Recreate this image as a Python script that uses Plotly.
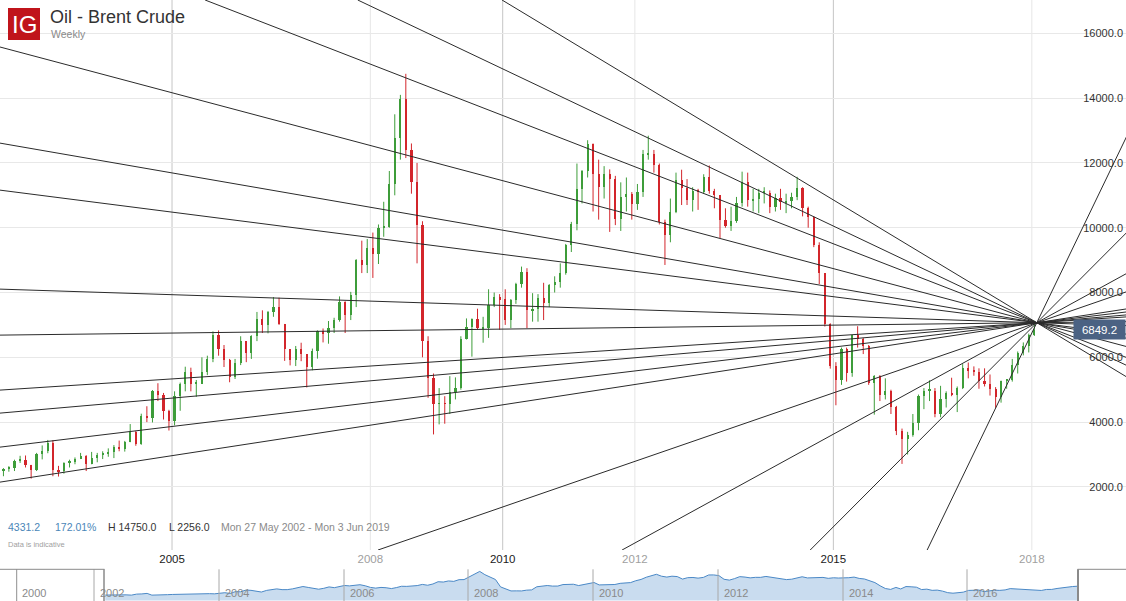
import pandas as pd
import plotly.graph_objects as go

# ---------------- data (monthly candles, price x100) ----------------
START_MONTH = "2002-06-01"
FIRST_OPEN = 2518.0

CLOSE = [
    2560, 2590, 2800, 2840, 2670, 2530, 3010,
    3120, 3370, 2530, 2490, 2740, 2760, 2860, 2960, 2710, 2890, 2990, 3030,
    3090, 3240, 3160, 3380, 3700, 3330, 4200, 4140, 4950, 4850, 4340, 4030,
    4820, 5180, 5540, 5190, 5190, 5560, 5960, 6690, 6250, 5930, 5390, 5820,
    6500, 6140, 6660, 7180, 7000, 7390, 7560, 7030, 6250, 5920, 6260, 6100,
    5700, 6200, 6810, 6750, 6900, 7140, 7700, 7300, 7920, 9000, 8850, 9380,
    9180, 10000, 10030, 11350, 12780, 13980, 12410, 11410, 10070, 6500, 5350, 4560,
    4590, 4560, 4920, 5060, 6570, 6930, 7170, 6900, 6910, 7630, 7850, 7790,
    7150, 7760, 8270, 8620, 7460, 7500, 7840, 7670, 8230, 8320, 8590, 9480,
    10100, 11180, 11740, 12590, 11670, 11250, 11670, 11490, 10280, 10960, 11050, 10740,
    11090, 12270, 12290, 11950, 10190, 9780, 10490, 11460, 11240, 10870, 11120, 11110,
    11560, 11140, 11000, 10240, 10040, 10220, 10770, 11400, 10840, 10880, 11080, 11080,
    10640, 10910, 10780, 10810, 10940, 11240, 10600, 10320, 9470, 8590, 7020, 5730,
    5290, 6260, 5510, 6680, 6560, 6360, 5220, 5420, 4840, 4960, 4460, 3730,
    3470, 3600, 3960, 4810, 4970, 4970, 4250, 4700, 4910, 4830, 5050, 5680,
    5570, 5560, 5280, 5170, 5030, 4790, 5270, 5290, 5750, 6140, 6360, 6690,
    6849.2,
]
HIGH = [
    2580, 2640, 2840, 2960, 2970, 2680, 3050,
    3280, 3450, 3440, 2650, 2760, 2840, 2910, 3050, 2980, 3080, 3050, 3100,
    3190, 3290, 3430, 3420, 3940, 3730, 4260, 4490, 4990, 5200, 4900, 4380,
    4950, 5220, 5710, 5680, 5300, 6000, 6050, 6800, 6830, 6380, 5950, 5950,
    6650, 6500, 6680, 7400, 7450, 7430, 7860, 7840, 7030, 6250, 6350, 6450,
    6100, 6270, 6830, 6890, 7120, 7220, 7880, 7730, 8020, 9030, 9600, 9650,
    9850, 10100, 10800, 11750, 13500, 14100, 14750, 12600, 12000, 10200, 6650, 5500,
    5050, 4800, 5420, 5380, 6650, 7200, 7200, 7500, 7250, 8100, 8000, 7950,
    8100, 7800, 8300, 8800, 8750, 7980, 7950, 8300, 8260, 8500, 8900, 9500,
    10180, 11980, 11780, 12700, 12600, 12100, 11900, 11800, 11600, 11400, 11550, 11100,
    11350, 12400, 12840, 12400, 11980, 10250, 10900, 11700, 11790, 11500, 11250, 11200,
    11650, 11920, 11200, 11000, 10600, 10650, 10950, 11730, 11700, 11200, 11200, 11250,
    11150, 11050, 11200, 11050, 11080, 11570, 11250, 10650, 10350, 9550, 8600, 7050,
    5850, 6300, 6300, 6690, 6960, 6600, 6380, 5450, 5450, 5350, 5000, 4500,
    3800, 3700, 4250, 4850, 5050, 5290, 5050, 5120, 4950, 5370, 5100, 5790,
    5840, 5720, 5660, 5660, 5470, 5080, 5280, 5300, 5950, 6180, 6460, 6730,
    7130,
]
LOW = [
    2330, 2470, 2490, 2740, 2600, 2256, 2490,
    2850, 3040, 2330, 2320, 2410, 2600, 2700, 2860, 2490, 2700, 2760, 2860,
    2930, 2890, 3100, 3090, 3380, 3270, 3300, 4000, 3990, 4650, 4080, 3740,
    3900, 4350, 4950, 4950, 4780, 5180, 5450, 5850, 6050, 5700, 5230, 5330,
    5760, 5850, 5950, 6500, 6750, 6740, 7250, 7000, 5890, 5750, 5730, 5880,
    5070, 5600, 5960, 6460, 6420, 6750, 7100, 6750, 7150, 7550, 8600, 8600,
    8450, 8880, 9720, 10000, 11000, 12100, 12150, 11050, 8900, 6000, 4750, 3620,
    3930, 3950, 4250, 4700, 5000, 6550, 6020, 6850, 6450, 6600, 7550, 6850,
    7000, 6900, 7650, 8150, 6900, 7100, 7100, 7150, 7550, 8000, 8150, 8550,
    9250, 9920, 10750, 11550, 10500, 10250, 10900, 9870, 10080, 9900, 10500, 10250,
    10550, 10950, 12100, 11700, 10100, 8850, 9550, 10450, 10700, 10700, 10500, 10550,
    11050, 11050, 10600, 9680, 10000, 9900, 10150, 10650, 10650, 10500, 10450, 10750,
    10450, 10500, 10550, 10450, 10600, 10850, 10350, 10000, 9400, 8260, 6950, 5650,
    4520, 5150, 5250, 5400, 6300, 6100, 5150, 4230, 4650, 4700, 4250, 3600,
    2710, 3000, 3550, 3750, 4400, 4650, 4150, 4150, 4450, 4800, 4310, 5020,
    5350, 5430, 5030, 5100, 4820, 4440, 4600, 5030, 5250, 5500, 6060, 6150,
    6660,
]

# trend lines: all pass through one pivot; each is given by another point on it
PIVOT_T, PIVOT_V = 2018.076, 7068
LINE_T = [2005.50, 2007.81, 2009.99,
          2002.40, 2002.40, 2002.40, 2002.40, 2002.40, 2002.40, 2002.40, 2002.40, 2002.40,
          2008.116, 2011.806, 2014.65, 2016.418]
LINE_V = [17028, 17028, 17028,
          15577, 12611, 11160, 8105, 6685, 4988, 4278, 3228, 2148,
          53, 53, 53, 53]

X_LABELS = ["2005", "2008", "2010", "2012", "2015", "2018"]
X_MAJOR = ["2005", "2010", "2015"]
Y_TICKS = [2000, 4000, 6000, 8000, 10000, 12000, 14000, 16000]
NAV_LABELS = ["2000", "2002", "2004", "2006", "2008", "2010", "2012", "2014", "2016"]
NAV_LABEL_PX = [16.7, 94, 219, 344, 468, 593, 718, 843, 967]

# ---------------- helpers ----------------
W, H = 1126, 601
FONT = "Liberation Sans, Arial, sans-serif"


def yr(t):
    y = int(t)
    a = pd.Timestamp(year=y, month=1, day=1)
    b = pd.Timestamp(year=y + 1, month=1, day=1)
    return a + (b - a) * (t - y)


def px(x):
    return x / W


def py(y):
    return 1 - y / H


dates = pd.date_range(START_MONTH, periods=len(CLOSE), freq="MS") + pd.Timedelta(days=14)
OPEN = [FIRST_OPEN] + CLOSE[:-1]

GREEN = "#3e9d3a"
RED = "#d3262c"

fig = go.Figure()

# candles: wicks as line segments, bodies as narrow bars
for up, col in ((True, GREEN), (False, RED)):
    idx = [i for i in range(len(CLOSE)) if (CLOSE[i] >= OPEN[i]) == up]
    wx, wy = [], []
    for i in idx:
        wx += [dates[i], dates[i], None]
        wy += [LOW[i], HIGH[i], None]
    fig.add_trace(go.Scatter(x=wx, y=wy, mode="lines", line=dict(color=col, width=1),
                             hoverinfo="skip"))
    fig.add_trace(go.Bar(
        x=[dates[i] for i in idx],
        base=[min(OPEN[i], CLOSE[i]) for i in idx],
        y=[max(abs(CLOSE[i] - OPEN[i]), 30) for i in idx],
        width=12 * 24 * 3600 * 1000, marker=dict(color=col, line=dict(width=0)),
        hoverinfo="skip",
    ))

T_END = 2019.8
for t0, v0 in zip(LINE_T, LINE_V):
    slope = (PIVOT_V - v0) / (PIVOT_T - t0)
    v_end = PIVOT_V + slope * (T_END - PIVOT_T)
    fig.add_trace(go.Scatter(
        x=[yr(t0), yr(PIVOT_T), yr(T_END)], y=[v0, PIVOT_V, v_end],
        mode="lines", line=dict(color="#2b2b2b", width=1), hoverinfo="skip",
    ))

# navigator
fig.add_trace(go.Scatter(
    x=dates, y=CLOSE, xaxis="x2", yaxis="y2", mode="lines",
    fill="tozeroy", fillcolor="#c9dcef", line=dict(color="#4a88c6", width=1),
    hoverinfo="skip",
))

MAIN_BOTTOM = 550
NAV_TOP = 569.3

shapes = []
for lab in X_LABELS:
    major = lab in X_MAJOR
    shapes.append(dict(type="line", xref="x", yref="y domain",
                       x0=pd.Timestamp(int(lab), 1, 1), x1=pd.Timestamp(int(lab), 1, 1),
                       y0=0, y1=1, layer="below",
                       line=dict(color="#c6c6c6" if major else "#e6e6e6", width=1)))
for v in Y_TICKS:
    shapes.append(dict(type="rect", xref="paper", yref="y",
                       x0=px(1076), x1=px(1119), y0=v - 170, y1=v + 170,
                       fillcolor="white", line=dict(width=0), layer="between"))

# navigator decorations
for lab, xp in zip(NAV_LABELS, NAV_LABEL_PX):
    shapes.append(dict(type="line", xref="paper", yref="paper",
                       x0=px(xp), x1=px(xp), y0=py(H), y1=py(NAV_TOP),
                       line=dict(color="#a8a8a8" if lab != "2000" else "#8f8f8f", width=1)))
shapes += [
    dict(type="line", xref="paper", yref="paper", x0=0, x1=px(104.5),
         y0=py(NAV_TOP), y1=py(NAV_TOP), line=dict(color="#8a8a8a", width=1)),
    dict(type="line", xref="paper", yref="paper", x0=px(104), x1=px(104),
         y0=py(NAV_TOP), y1=0, line=dict(color="#8a8a8a", width=1.5)),
    dict(type="line", xref="paper", yref="paper", x0=px(1077.5), x1=1,
         y0=py(NAV_TOP), y1=py(NAV_TOP), line=dict(color="#8a8a8a", width=1)),
    dict(type="line", xref="paper", yref="paper", x0=px(1078), x1=px(1078),
         y0=py(NAV_TOP), y1=0, line=dict(color="#8a8a8a", width=2)),
    # IG logo
    dict(type="rect", xref="paper", yref="paper", x0=px(8), x1=px(40),
         y0=py(40), y1=py(8), fillcolor="#c0141b", line=dict(width=0)),
]

ann = []
ann.append(dict(text="IG", x=px(24), y=py(24.5), xref="paper", yref="paper",
                showarrow=False, font=dict(family=FONT, size=24, color="white"),
                xanchor="center", yanchor="middle"))
ann.append(dict(text="Oil - Brent Crude", x=px(48), y=py(17), xref="paper", yref="paper",
                showarrow=False, font=dict(family=FONT, size=18, color="#333333"),
                xanchor="left", yanchor="middle"))
ann.append(dict(text="Weekly", x=px(48.5), y=py(34), xref="paper", yref="paper",
                showarrow=False, font=dict(family=FONT, size=10.5, color="#8a8a8a"),
                xanchor="left", yanchor="middle"))

last = CLOSE[-1]
chg = last - FIRST_OPEN
pct = chg / FIRST_OPEN * 100
info = [
    (f"{chg:.1f}", 6, "#4a86b8"),
    (f"{pct:.2f}%", 53, "#4a86b8"),
    (f"H {max(HIGH):.1f}", 106, "#333333"),
    (f"L {min(LOW):.1f}", 167, "#333333"),
    ("Mon 27 May 2002 - Mon 3 Jun 2019", 219, "#8a8a8a"),
]
for txt, xp, col in info:
    ann.append(dict(text=txt, x=px(xp), y=py(526.5), xref="paper", yref="paper",
                    showarrow=False, font=dict(family=FONT, size=10.5, color=col),
                    xanchor="left", yanchor="middle"))
ann.append(dict(text="Data is indicative", x=px(6), y=py(544), xref="paper", yref="paper",
                showarrow=False, font=dict(family=FONT, size=7.5, color="#a0a0a0"),
                xanchor="left", yanchor="middle"))

# current value tag
ann.append(dict(text=f"{last:.1f}", x=1, y=last, xref="paper", yref="y",
                showarrow=False, xanchor="right", yanchor="middle",
                bgcolor="#4b6283", font=dict(family=FONT, size=11.5, color="white"),
                width=47, height=15, borderpad=2, align="center"))

for lab, xp in zip(NAV_LABELS, NAV_LABEL_PX):
    ann.append(dict(text=lab, x=px(xp + 3.5), y=py(593), xref="paper", yref="paper",
                    showarrow=False, font=dict(family=FONT, size=11, color="#8a8a8a"),
                    xanchor="left", yanchor="middle"))

ticktext = [
    f'<span style="color:{"#1a1a1a" if lab in X_MAJOR else "#a0a0a0"}">{lab}</span>'
    for lab in X_LABELS
]

fig.update_layout(
    width=W, height=H, margin=dict(l=0, r=0, t=0, b=0),
    paper_bgcolor="white", plot_bgcolor="white", showlegend=False,
    font=dict(family=FONT), barmode="overlay", bargap=0,
    xaxis=dict(domain=[0, 1], type="date", range=["2002-05-27", "2019-06-05"],
               showgrid=False, zeroline=False, showline=False, ticks="",
               tickvals=[pd.Timestamp(int(l), 1, 1) for l in X_LABELS], ticktext=ticktext,
               tickfont=dict(size=11.5, family=FONT), rangeslider=dict(visible=False),
               fixedrange=True, anchor="y"),
    yaxis=dict(domain=[(H - MAIN_BOTTOM) / H, 1], range=[53, 17028], side="right",
               tickvals=Y_TICKS, tickformat=".1f", ticklabelposition="inside",
               ticks="", showgrid=True, gridcolor="#e8e8e8", zeroline=False,
               showline=False, tickfont=dict(size=11, color="#333333", family=FONT),
               fixedrange=True, anchor="x"),
    xaxis2=dict(domain=[0, 1], anchor="y2", type="date",
                range=[yr(2000.765), yr(2018.81)], visible=False, fixedrange=True),
    yaxis2=dict(domain=[0, (H - NAV_TOP) / H], anchor="x2", range=[-300, 15000],
                visible=False, fixedrange=True),
    shapes=shapes, annotations=ann,
)

fig.write_html("out.html", config={"displayModeBar": False},
               post_script="document.body.style.margin='0';"
               "document.body.style.overflow='hidden';")
